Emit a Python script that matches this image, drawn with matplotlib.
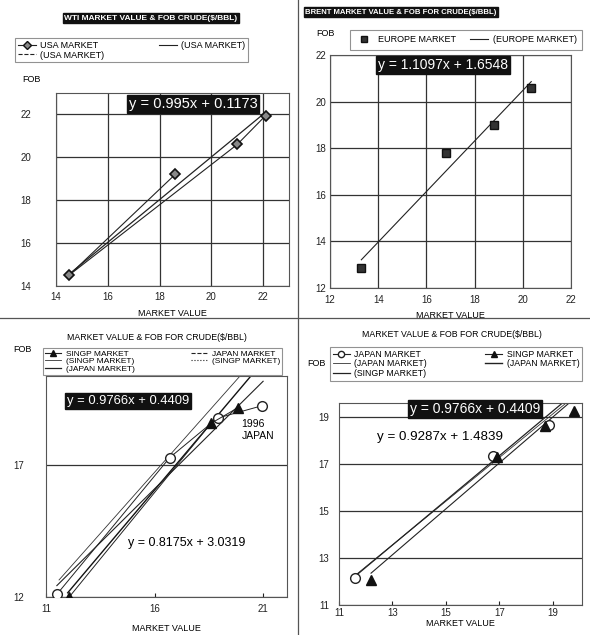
import numpy as np
import matplotlib
matplotlib.use("Agg")
import matplotlib.pyplot as plt
from matplotlib.lines import Line2D

plt.rcParams['font.family'] = ['Liberation Sans', 'DejaVu Sans']

# ---- data read from the scanned page ----
# panel 1 : WTI / USA market
usa_mv = [18.6, 14.5, 21.0, 22.1]
usa_fob = [19.2, 14.5, 20.6, 21.95]
usa_fit = [0.995, 0.1173]

# panel 2 : Brent / Europe market
eur_mv = [13.3, 16.8, 18.8, 20.35]
eur_fob = [12.85, 17.8, 19.0, 20.6]
eur_label = "y = 1.1097x + 1.6548"

# panel 3 : Singapore / Japan
p3_jap_mv = [11.5, 16.7, 18.9, 20.95]
p3_jap_fob = [12.1, 17.3, 18.8, 19.27]
p3_sng_mv = [12.07, 18.6, 19.85]
p3_sng_fob = [12.0, 18.6, 19.2]
p3_sng_fit = [0.9766, 0.4409]
p3_jap_fit = [0.8175, 3.0319]
p3_sng_fit2 = [0.93, 1.86]   # second (dotted) singp trend

# panel 4 : Japan / Singapore
p4_jap_mv = [11.6, 16.75, 18.85]
p4_jap_fob = [12.15, 17.35, 18.65]
p4_sng_mv = [12.2, 16.9, 18.7, 19.8]
p4_sng_fob = [12.05, 17.3, 18.6, 19.25]
p4_jap_fit = [0.9287, 1.4839]
p4_jap_fit2 = [0.95, 1.2]
p4_sng_fit = [0.9766, 0.4409]

W, H = 590, 635
fig = plt.figure(figsize=(W / 100, H / 100), dpi=100)
fig.patch.set_facecolor('white')

def px_axes(l, t, r, b):
    return fig.add_axes([l / W, 1 - b / H, (r - l) / W, (b - t) / H])

def fx(x):
    return x / W

def fy(y):
    return 1 - y / H

def style(ax):
    for s in ax.spines.values():
        s.set_color('#555555')
        s.set_linewidth(0.8)
    ax.tick_params(labelsize=7, colors='#222222')

def trend(ax, coef, x0, x1, **kw):
    xs = np.array([x0, x1])
    ax.plot(xs, coef[0] * xs + coef[1], **kw)

def eqbox(ax, x, y, s, size):
    ax.text(x, y, s, transform=fig.transFigure, ha='center', va='center',
            color='white', fontsize=size,
            bbox=dict(boxstyle='square,pad=0.12', fc='#111111', ec='#111111'))

def mklegend(handles, labels, l, t, r, ncol=2, size=6.5, spacing=0.15, bpad=0.35):
    lg = fig.legend(handles, labels, loc='upper left', ncol=ncol, mode='expand',
                    bbox_to_anchor=(fx(l), fy(t) - 0.2, fx(r) - fx(l), 0.2),
                    fontsize=size, frameon=True, fancybox=False, borderpad=bpad,
                    labelspacing=spacing, handlelength=2.0, handletextpad=0.5,
                    borderaxespad=0)
    lg.get_frame().set_edgecolor('#777777')
    lg.get_frame().set_linewidth(0.8)
    return lg

# page dividers
fig.add_artist(Line2D([0, 1], [fy(318), fy(318)], color='#555555', lw=0.9))
fig.add_artist(Line2D([fx(298), fx(298)], [0, 1], color='#555555', lw=0.9))

# ================= panel 1 =================
ax1 = px_axes(56, 93, 289, 286)
style(ax1)
ax1.set_xlim(14, 23)
ax1.set_ylim(14, 23)
ax1.set_xticks([14, 16, 18, 20, 22])
ax1.set_yticks([14, 16, 18, 20, 22])
ax1.tick_params(length=0, pad=4)
ax1.tick_params(axis='y', pad=18)
ax1.grid(True, color='#333333', lw=0.9)
ax1.plot(usa_mv, usa_fob, color='#222222', lw=0.8, marker='D', ms=5,
         mfc='#888888', mec='#111111', mew=1.2, zorder=3)
trend(ax1, usa_fit, min(usa_mv), max(usa_mv), color='#222222', lw=0.9)
ax1.set_xlabel("MARKET VALUE", fontsize=6.5, labelpad=5)
fig.text(fx(31), fy(80), "FOB", fontsize=6.5, ha='center', va='center')
fig.text(fx(151), fy(18), "WTI MARKET VALUE & FOB CRUDE($/BBL)", fontsize=6,
         color='white', ha='center', va='center', weight='bold',
         bbox=dict(boxstyle='square,pad=0.15', fc='#111111', ec='#111111'))
eqbox(ax1, fx(193), fy(104), "y = 0.995x + 0.1173", 10.5)
h1 = [Line2D([], [], color='#222222', lw=0.8, marker='D', ms=4, mfc='#888888', mec='#111111'),
      Line2D([], [], color='#222222', lw=0.8, ls='--'),
      Line2D([], [], color='#222222', lw=0.8)]
mklegend(h1, ["USA MARKET", "(USA MARKET)", "(USA MARKET)"], 15, 38, 248,
         spacing=0.1, bpad=0.3)

# ================= panel 2 =================
ax2 = px_axes(330, 55, 571, 288)
style(ax2)
ax2.set_xlim(12, 22)
ax2.set_ylim(12, 22)
ax2.set_xticks([12, 14, 16, 18, 20, 22])
ax2.set_yticks([12, 14, 16, 18, 20, 22])
ax2.tick_params(length=0, pad=5)
ax2.tick_params(axis='y', pad=3)
ax2.grid(True, color='#333333', lw=0.9)
eur_coef = np.polyfit(eur_mv, eur_fob, 1)
trend(ax2, eur_coef, min(eur_mv), max(eur_mv), color='#222222', lw=0.8)
ax2.plot(eur_mv, eur_fob, ls='none', marker='s', ms=6, mfc='#333333',
         mec='#111111', zorder=3)
ax2.set_xlabel("MARKET VALUE", fontsize=6.5, labelpad=4)
fig.text(fx(325), fy(33), "FOB", fontsize=6.5, ha='center', va='center')
fig.text(fx(401), fy(12), "BRENT MARKET VALUE & FOB FOR CRUDE($/BBL)", fontsize=5.6,
         color='white', ha='center', va='center', weight='bold',
         bbox=dict(boxstyle='square,pad=0.15', fc='#111111', ec='#111111'))
eqbox(ax2, fx(443), fy(65), eur_label, 10)
h2 = [Line2D([], [], ls='none', marker='s', ms=4, mfc='#333333', mec='#111111'),
      Line2D([], [], color='#222222', lw=0.8)]
mklegend(h2, ["EUROPE MARKET", "(EUROPE MARKET)"], 350, 30, 582, bpad=0.6)

# ================= panel 3 =================
ax3 = px_axes(46, 376, 287, 597)
style(ax3)
ax3.set_xlim(11, 22.1)
ax3.set_ylim(12, 20.4)
ax3.set_xticks([11, 16, 21])
ax3.set_yticks([12, 17])
ax3.tick_params(axis='x', direction='in', length=3, pad=5)
ax3.tick_params(axis='y', length=0, pad=16)
ax3.grid(True, axis='y', color='#333333', lw=0.9)
trend(ax3, p3_sng_fit2, 11.6, 20.0, color='#333333', lw=0.6)
trend(ax3, p3_sng_fit, 12.0, 20.5, color='#111111', lw=1.0)
trend(ax3, p3_jap_fit, 11.5, 21.0, color='#222222', lw=0.8)
ax3.plot(p3_jap_mv, p3_jap_fob, color='#222222', lw=0.7, marker='o', ms=7,
         mfc='white', mec='#222222', zorder=3)
ax3.plot(p3_sng_mv, p3_sng_fob, color='#222222', lw=0.7, marker='^', ms=7,
         mfc='#111111', mec='#111111', zorder=4)
ax3.set_xlabel("MARKET VALUE", fontsize=6.5, labelpad=7)
ax3.text(20.0, 18.35, "1996\nJAPAN", fontsize=7.5, ha='left', va='center',
         linespacing=1.2)
fig.text(fx(22), fy(350), "FOB", fontsize=6.5, ha='center', va='center')
fig.text(fx(157), fy(338), "MARKET VALUE & FOB FOR CRUDE($/BBL)", fontsize=6.3,
         ha='center', va='center')
eqbox(ax3, fx(128), fy(401), "y = 0.9766x + 0.4409", 9.4)
fig.text(fx(187), fy(543), "y = 0.8175x + 3.0319", fontsize=9, ha='center', va='center')
h3 = [Line2D([], [], color='#222222', lw=0.8, marker='^', ms=4, mfc='#111111', mec='#111111'),
      Line2D([], [], color='#333333', lw=0.6),
      Line2D([], [], color='#222222', lw=0.9),
      Line2D([], [], color='#222222', lw=0.8, ls='--'),
      Line2D([], [], color='#222222', lw=0.8, ls=':')]
mklegend(h3, ["SINGP MARKET", "(SINGP MARKET)", "(JAPAN MARKET)",
              "JAPAN MARKET", "(SINGP MARKET)"], 43, 348, 282,
         size=6, spacing=0.0, bpad=0.2)

# ================= panel 4 =================
ax4 = px_axes(339, 403, 582, 605)
style(ax4)
ax4.set_xlim(11, 20.1)
ax4.set_ylim(11, 19.6)
ax4.set_xticks([11, 13, 15, 17, 19])
ax4.set_yticks([11, 13, 15, 17, 19])
ax4.tick_params(axis='x', direction='in', length=3, pad=2)
ax4.tick_params(axis='y', length=0, pad=7)
ax4.grid(True, axis='y', color='#333333', lw=0.9)
trend(ax4, p4_jap_fit, 11.6, 20.1, color='#333333', lw=0.6)
trend(ax4, p4_jap_fit2, 11.6, 20.1, color='#222222', lw=0.9)
trend(ax4, p4_sng_fit, 12.2, 20.1, color='#222222', lw=0.8)
ax4.plot(p4_jap_mv, p4_jap_fob, ls='none', marker='o', ms=7,
         mfc='white', mec='#222222', zorder=3)
ax4.plot(p4_sng_mv, p4_sng_fob, ls='none', marker='^', ms=6.5,
         mfc='#111111', mec='#111111', zorder=4)
ax4.set_xlabel("MARKET VALUE", fontsize=6.5, labelpad=1)
fig.text(fx(316), fy(363), "FOB", fontsize=6.5, ha='center', va='center')
fig.text(fx(452), fy(335), "MARKET VALUE & FOB FOR CRUDE($/BBL)", fontsize=6.3,
         ha='center', va='center')
eqbox(ax4, fx(475), fy(409), "y = 0.9766x + 0.4409", 10)
fig.text(fx(440), fy(437), "y = 0.9287x + 1.4839", fontsize=9.6, ha='center', va='center')
h4 = [Line2D([], [], color='#222222', lw=0.8, marker='o', ms=4.5, mfc='white', mec='#222222'),
      Line2D([], [], color='#333333', lw=0.6),
      Line2D([], [], color='#222222', lw=0.9),
      Line2D([], [], color='#222222', lw=0.8, marker='^', ms=4.5, mfc='#111111', mec='#111111'),
      Line2D([], [], color='#222222', lw=1.0)]
mklegend(h4, ["JAPAN MARKET", "(JAPAN MARKET)", "(SINGP MARKET)",
              "SINGP MARKET", "(JAPAN MARKET)"], 330, 347, 582,
         size=6.3, spacing=0.1, bpad=0.3)

fig.savefig("out.png", dpi=100)
